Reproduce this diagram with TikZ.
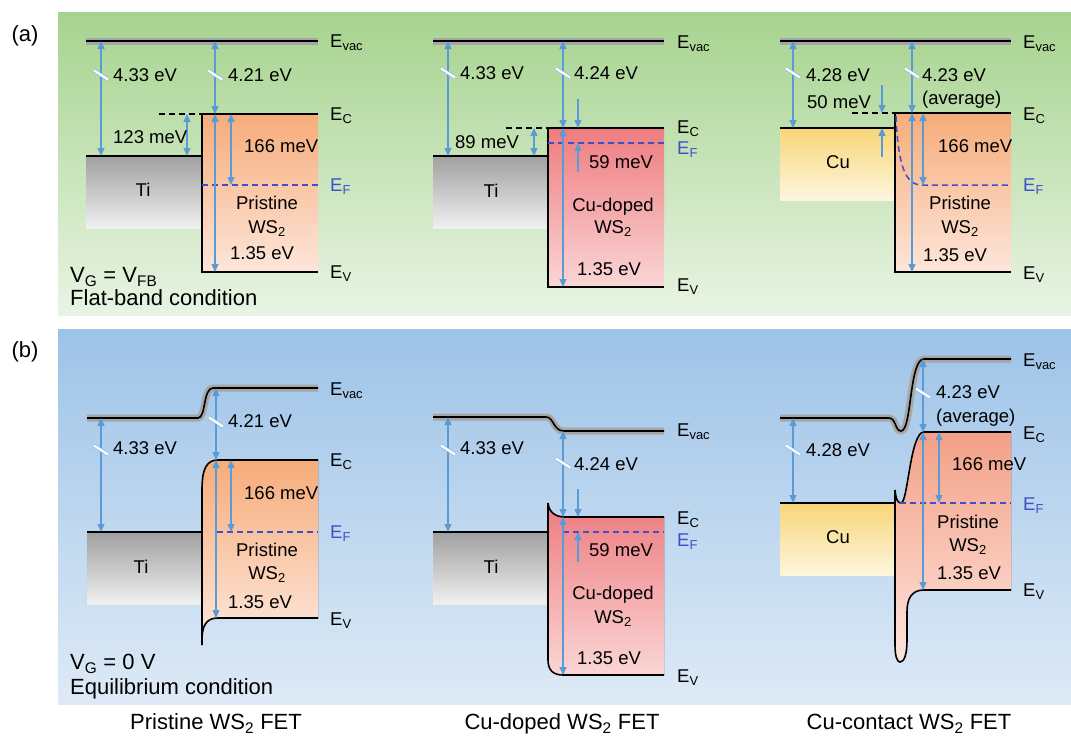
\documentclass[tikz,border=0pt]{standalone}
\usepackage{fontspec}
\setmainfont{Liberation Sans}
\usetikzlibrary{arrows.meta}
\definecolor{arrc}{RGB}{91,155,213}
\definecolor{efc}{RGB}{60,80,200}
\definecolor{grnT}{RGB}{166,211,142}
\definecolor{grnB}{RGB}{233,244,228}
\definecolor{bluT}{RGB}{157,195,232}
\definecolor{bluB}{RGB}{222,234,246}
\definecolor{tiT}{RGB}{160,160,160}
\definecolor{tiB}{RGB}{240,240,240}
\definecolor{orT}{RGB}{246,172,122}
\definecolor{orB}{RGB}{253,230,218}
\definecolor{rdT}{RGB}{238,124,128}
\definecolor{rdB}{RGB}{250,214,214}
\definecolor{cuT}{RGB}{248,214,120}
\definecolor{cuB}{RGB}{253,246,222}
\definecolor{pkT}{RGB}{243,160,135}
\definecolor{pkB}{RGB}{253,228,220}
\newcommand\brkmark[2]{%
  \draw[arrc!70, line width=3.6pt] ({#1-7},{#2-4.5}) -- ({#1+7},{#2+4.5});
  \draw[white, line width=2.2pt] ({#1-7},{#2-4.5}) -- ({#1+7},{#2+4.5});}
\tikzset{
  lab/.style={font=\fontsize{18.5}{20}\selectfont, inner sep=0pt, anchor=base west, yshift=-6.6pt},
  labc/.style={font=\fontsize{18.5}{20}\selectfont, inner sep=0pt, anchor=base, yshift=-6.6pt},
  bigl/.style={font=\fontsize{22}{24}\selectfont, inner sep=0pt, anchor=base west, yshift=-7.9pt},
  bigc/.style={font=\fontsize{22}{24}\selectfont, inner sep=0pt, anchor=base, yshift=-7.9pt},
  arr/.style={draw=arrc, line width=1.3pt, {Triangle[length=8pt,width=7pt]}-{Triangle[length=8pt,width=7pt]}},
  arrE/.style={draw=arrc, line width=1.3pt, -{Triangle[length=8pt,width=7pt]}},
  level/.style={draw=black, line width=1.6pt},
  vacbg/.style={draw=black!35, line width=7pt},
  fermi/.style={draw=efc, line width=1.5pt, dash pattern=on 6pt off 4pt},
  ecdash/.style={draw=black, line width=1.4pt, dash pattern=on 6pt off 4pt},
}
\begin{document}
\begin{tikzpicture}[x=1pt,y=-1pt]
\useasboundingbox (0,0) rectangle (1071,736);
\fill[white] (0,0) rectangle (1071,736);
% backgrounds
\fill[top color=grnT, bottom color=grnB] (58,12) rectangle (1071,315);
\fill[top color=bluT, bottom color=bluB] (58,329) rectangle (1071,704);
\node[bigc] (la) at (25,34) {(a)};
\node[bigc] (lb) at (25,350) {(b)};

% ================= PANEL (a) =================
% --- col 1: pristine
\fill[top color=tiT, bottom color=tiB] (86,156) rectangle (202,228);
\fill[top color=orT, bottom color=orB] (202,114) rectangle (318,272);
\draw[vacbg] (86,41) -- (318,41);
\draw[level] (86,41) -- (318,41);
\draw[level] (86,156) -- (202,156);
\draw[level] (318,114) -- (202,114) -- (202,272) -- (318,272);
\draw[ecdash] (159,114) -- (202,114);
\draw[fermi] (202,185) -- (318,185);
\draw[arr] (101,41) -- (101,156);
\draw[arr] (215,41) -- (215,114);
\draw[arr] (187,114) -- (187,156);
\draw[arr] (231,114) -- (231,185);
\draw[arr] (215,114) -- (215,272);
\brkmark{101}{75}
\brkmark{215}{75}
\node[lab] (a1t1) at (113,75) {4.33 eV};
\node[lab] (a1t2) at (228,75) {4.21 eV};
\node[lab] (a1t3) at (113,137) {123 meV};
\node[lab] (a1t4) at (244,146) {166 meV};
\node[lab] (a1t5) at (230,253) {1.35 eV};
\node[labc] (a1ti) at (143,190) {Ti};
\node[labc] (a1p) at (267,203) {Pristine};
\node[labc] (a1w) at (267,227) {WS\textsubscript{2}};
\node[lab] (a1ev) at (330,41) {E\textsubscript{vac}};
\node[lab] (a1ec) at (330,114) {E\textsubscript{C}};
\node[lab, text=efc] (a1ef) at (330,185) {E\textsubscript{F}};
\node[lab] (a1evv) at (330,272) {E\textsubscript{V}};
\node[bigl] (a1vg) at (70,275) {V\textsubscript{G} = V\textsubscript{FB}};
\node[bigl] (a1fb) at (70,298) {Flat-band condition};

% --- col 2: Cu-doped
\fill[top color=tiT, bottom color=tiB] (433,156) rectangle (548,228);
\fill[top color=rdT, bottom color=rdB] (548,128) rectangle (664,287);
\draw[vacbg] (433,41) -- (664,41);
\draw[level] (433,41) -- (664,41);
\draw[level] (433,156) -- (548,156);
\draw[level] (664,128) -- (548,128) -- (548,287) -- (664,287);
\draw[ecdash] (506,128) -- (548,128);
\draw[fermi] (548,143) -- (664,143);
\draw[arr] (448,41) -- (448,156);
\draw[arr] (563,41) -- (563,128);
\draw[arr] (534,128) -- (534,156);
\draw[arr] (563,128) -- (563,287);
\draw[arrE] (578,99) -- (578,128);
\draw[arrE] (578,172) -- (578,143);
\brkmark{448}{73}
\brkmark{563}{73}
\node[lab] (a2t1) at (460,73) {4.33 eV};
\node[lab] (a2t2) at (574,73) {4.24 eV};
\node[lab] (a2t3) at (455,142) {89 meV};
\node[lab] (a2t4) at (589,162) {59 meV};
\node[lab] (a2t5) at (577,269) {1.35 eV};
\node[labc] (a2ti) at (491,191) {Ti};
\node[labc] (a2p) at (613,205) {Cu-doped};
\node[labc] (a2w) at (613,227) {WS\textsubscript{2}};
\node[lab] (a2ev) at (677,42) {E\textsubscript{vac}};
\node[lab] (a2ec) at (677,127) {E\textsubscript{C}};
\node[lab, text=efc] (a2ef) at (677,148) {E\textsubscript{F}};
\node[lab] (a2evv) at (677,285) {E\textsubscript{V}};

% --- col 3: Cu-contact
\fill[top color=cuT, bottom color=cuB] (780,128) rectangle (895,200);
\fill[top color=orT, bottom color=orB] (895,113) rectangle (1011,272);
\draw[vacbg] (780,41) -- (1011,41);
\draw[level] (780,41) -- (1011,41);
\draw[level] (780,128) -- (895,128);
\draw[level] (1011,113) -- (895,113) -- (895,272) -- (1011,272);
\draw[ecdash] (852,113) -- (895,113);
\draw[fermi] (896,116) .. controls (898,165) and (905,185) .. (922,185) -- (1011,185);
\draw[arr] (793,41) -- (793,128);
\draw[arr] (912,41) -- (912,113);
\draw[arr] (912,113) -- (912,272);
\draw[arr] (923,113) -- (923,185);
\draw[arrE] (882,85) -- (882,113);
\draw[arrE] (882,157) -- (882,128);
\brkmark{793}{73}
\brkmark{912}{73}
\node[lab] (a3t1) at (806,75) {4.28 eV};
\node[lab] (a3t2) at (922,75) {4.23 eV};
\node[lab] (a3t2b) at (922,98) {(average)};
\node[lab] (a3t3) at (807,102) {50 meV};
\node[lab] (a3t4) at (938,146) {166 meV};
\node[lab] (a3t5) at (923,255) {1.35 eV};
\node[labc] (a3cu) at (838,162) {Cu};
\node[labc] (a3p) at (960,203) {Pristine};
\node[labc] (a3w) at (960,227) {WS\textsubscript{2}};
\node[lab] (a3ev) at (1023,42) {E\textsubscript{vac}};
\node[lab] (a3ec) at (1023,114) {E\textsubscript{C}};
\node[lab, text=efc] (a3ef) at (1023,185) {E\textsubscript{F}};
\node[lab] (a3evv) at (1023,273) {E\textsubscript{V}};

% ================= PANEL (b) =================
% --- col 1
\fill[top color=tiT, bottom color=tiB] (87,532) rectangle (202,604);
\fill[top color=orT, bottom color=orB] (318,460) -- (218,460) .. controls (207,460) and (202,468) .. (202,490) -- (202,640) .. controls (202,626) and (206,618) .. (218,618) -- (318,618) -- cycle;
\draw[vacbg] (87,418) -- (198,418) .. controls (206,418) and (203,388) .. (213,388) -- (318,388);
\draw[level] (87,418) -- (198,418) .. controls (206,418) and (203,388) .. (213,388) -- (318,388);
\draw[level] (87,532) -- (202,532);
\draw[level] (318,460) -- (218,460) .. controls (207,460) and (202,468) .. (202,490) -- (202,645);
\draw[level] (318,618) -- (218,618) .. controls (206,618) and (202,626) .. (202,640);
\draw[fermi] (217,532) -- (318,532);
\draw[arr] (101,418) -- (101,532);
\draw[arr] (216,388) -- (216,460);
\draw[arr] (216,460) -- (216,618);
\draw[arr] (231,460) -- (231,532);
\brkmark{101}{450}
\brkmark{216}{422}
\node[lab] (b1t1) at (113,448) {4.33 eV};
\node[lab] (b1t2) at (228,421) {4.21 eV};
\node[lab] (b1t4) at (244,493) {166 meV};
\node[lab] (b1t5) at (228,602) {1.35 eV};
\node[labc] (b1ti) at (141,567) {Ti};
\node[labc] (b1p) at (267,550) {Pristine};
\node[labc] (b1w) at (267,573) {WS\textsubscript{2}};
\node[lab] (b1ev) at (330,389) {E\textsubscript{vac}};
\node[lab] (b1ec) at (330,460) {E\textsubscript{C}};
\node[lab, text=efc] (b1ef) at (330,532) {E\textsubscript{F}};
\node[lab] (b1evv) at (330,619) {E\textsubscript{V}};
\node[bigl] (b1vg) at (70,662) {V\textsubscript{G} = 0 V};
\node[bigl] (b1eq) at (70,687) {Equilibrium condition};

% --- col 2
\fill[top color=tiT, bottom color=tiB] (433,532) rectangle (548,604);
\fill[top color=rdT, bottom color=rdB] (664,517) -- (565,517) .. controls (555,517) and (549,512) .. (548,503) -- (548,660) .. controls (548,670) and (553,675) .. (563,675) -- (664,675) -- cycle;
\draw[vacbg] (433,417) -- (546,417) .. controls (554,417) and (553,431) .. (564,431) -- (664,431);
\draw[level] (433,417) -- (546,417) .. controls (554,417) and (553,431) .. (564,431) -- (664,431);
\draw[level] (433,532) -- (548,532);
\draw[level] (664,517) -- (565,517) .. controls (555,517) and (549,512) .. (548,503) -- (548,660) .. controls (548,670) and (553,675) .. (563,675) -- (664,675);
\draw[fermi] (563,532) -- (664,532);
\draw[arr] (448,417) -- (448,532);
\draw[arr] (563,431) -- (563,517);
\draw[arr] (563,517) -- (563,675);
\draw[arrE] (578,489) -- (578,517);
\draw[arrE] (578,562) -- (578,532);
\brkmark{448}{450}
\brkmark{563}{463}
\node[lab] (b2t1) at (460,448) {4.33 eV};
\node[lab] (b2t2) at (574,464) {4.24 eV};
\node[lab] (b2t4) at (589,550) {59 meV};
\node[lab] (b2t5) at (577,658) {1.35 eV};
\node[labc] (b2ti) at (491,567) {Ti};
\node[labc] (b2p) at (613,593) {Cu-doped};
\node[labc] (b2w) at (613,617) {WS\textsubscript{2}};
\node[lab] (b2ev) at (677,430) {E\textsubscript{vac}};
\node[lab] (b2ec) at (677,518) {E\textsubscript{C}};
\node[lab, text=efc] (b2ef) at (677,540) {E\textsubscript{F}};
\node[lab] (b2evv) at (677,676) {E\textsubscript{V}};

% --- col 3
\fill[top color=cuT, bottom color=cuB] (780,503) rectangle (895,575);
\fill[top color=pkT, bottom color=pkB] (1011,432) -- (924,432) .. controls (910,432) and (908,503) .. (901,503) .. controls (898,503) and (896,500) .. (895,490) -- (895,645) .. controls (895,656) and (897,662) .. (900,662) .. controls (904,662) and (907,655) .. (907,640) -- (907,612) .. controls (907,598) and (912,590) .. (924,590) -- (1011,590) -- cycle;
\draw[vacbg] (780,418) -- (889,418) .. controls (896,418) and (895,431) .. (901,431) .. controls (912,431) and (909,359) .. (924,359) -- (1011,359);
\draw[level] (780,418) -- (889,418) .. controls (896,418) and (895,431) .. (901,431) .. controls (912,431) and (909,359) .. (924,359) -- (1011,359);
\draw[level] (780,503) -- (895,503);
\draw[level] (1011,432) -- (924,432) .. controls (910,432) and (908,503) .. (901,503) .. controls (898,503) and (896,500) .. (895,490) -- (895,645) .. controls (895,656) and (897,662) .. (900,662) .. controls (904,662) and (907,655) .. (907,640) -- (907,612) .. controls (907,598) and (912,590) .. (924,590) -- (1011,590);
\draw[fermi] (900,503) -- (1011,503);
\draw[arr] (793,418) -- (793,503);
\draw[arr] (923,359) -- (923,432);
\draw[arr] (923,432) -- (923,590);
\draw[arr] (939,432) -- (939,503);
\brkmark{793}{450}
\brkmark{923}{393}
\node[lab] (b3t1) at (806,450) {4.28 eV};
\node[lab] (b3t2) at (936,392) {4.23 eV};
\node[lab] (b3t2b) at (936,416) {(average)};
\node[lab] (b3t4) at (952,464) {166 meV};
\node[lab] (b3t5) at (937,573) {1.35 eV};
\node[labc] (b3cu) at (838,537) {Cu};
\node[labc] (b3p) at (968,522) {Pristine};
\node[labc] (b3w) at (968,545) {WS\textsubscript{2}};
\node[lab] (b3ev) at (1023,360) {E\textsubscript{vac}};
\node[lab] (b3ec) at (1023,433) {E\textsubscript{C}};
\node[lab, text=efc] (b3ef) at (1023,504) {E\textsubscript{F}};
\node[lab] (b3evv) at (1023,590) {E\textsubscript{V}};

% bottom captions
\node[bigc] (cap1) at (216,722) {Pristine WS\textsubscript{2} FET};
\node[bigc] (cap2) at (562,722) {Cu-doped WS\textsubscript{2} FET};
\node[bigc] (cap3) at (909,722) {Cu-contact WS\textsubscript{2} FET};
\end{tikzpicture}
\end{document}
